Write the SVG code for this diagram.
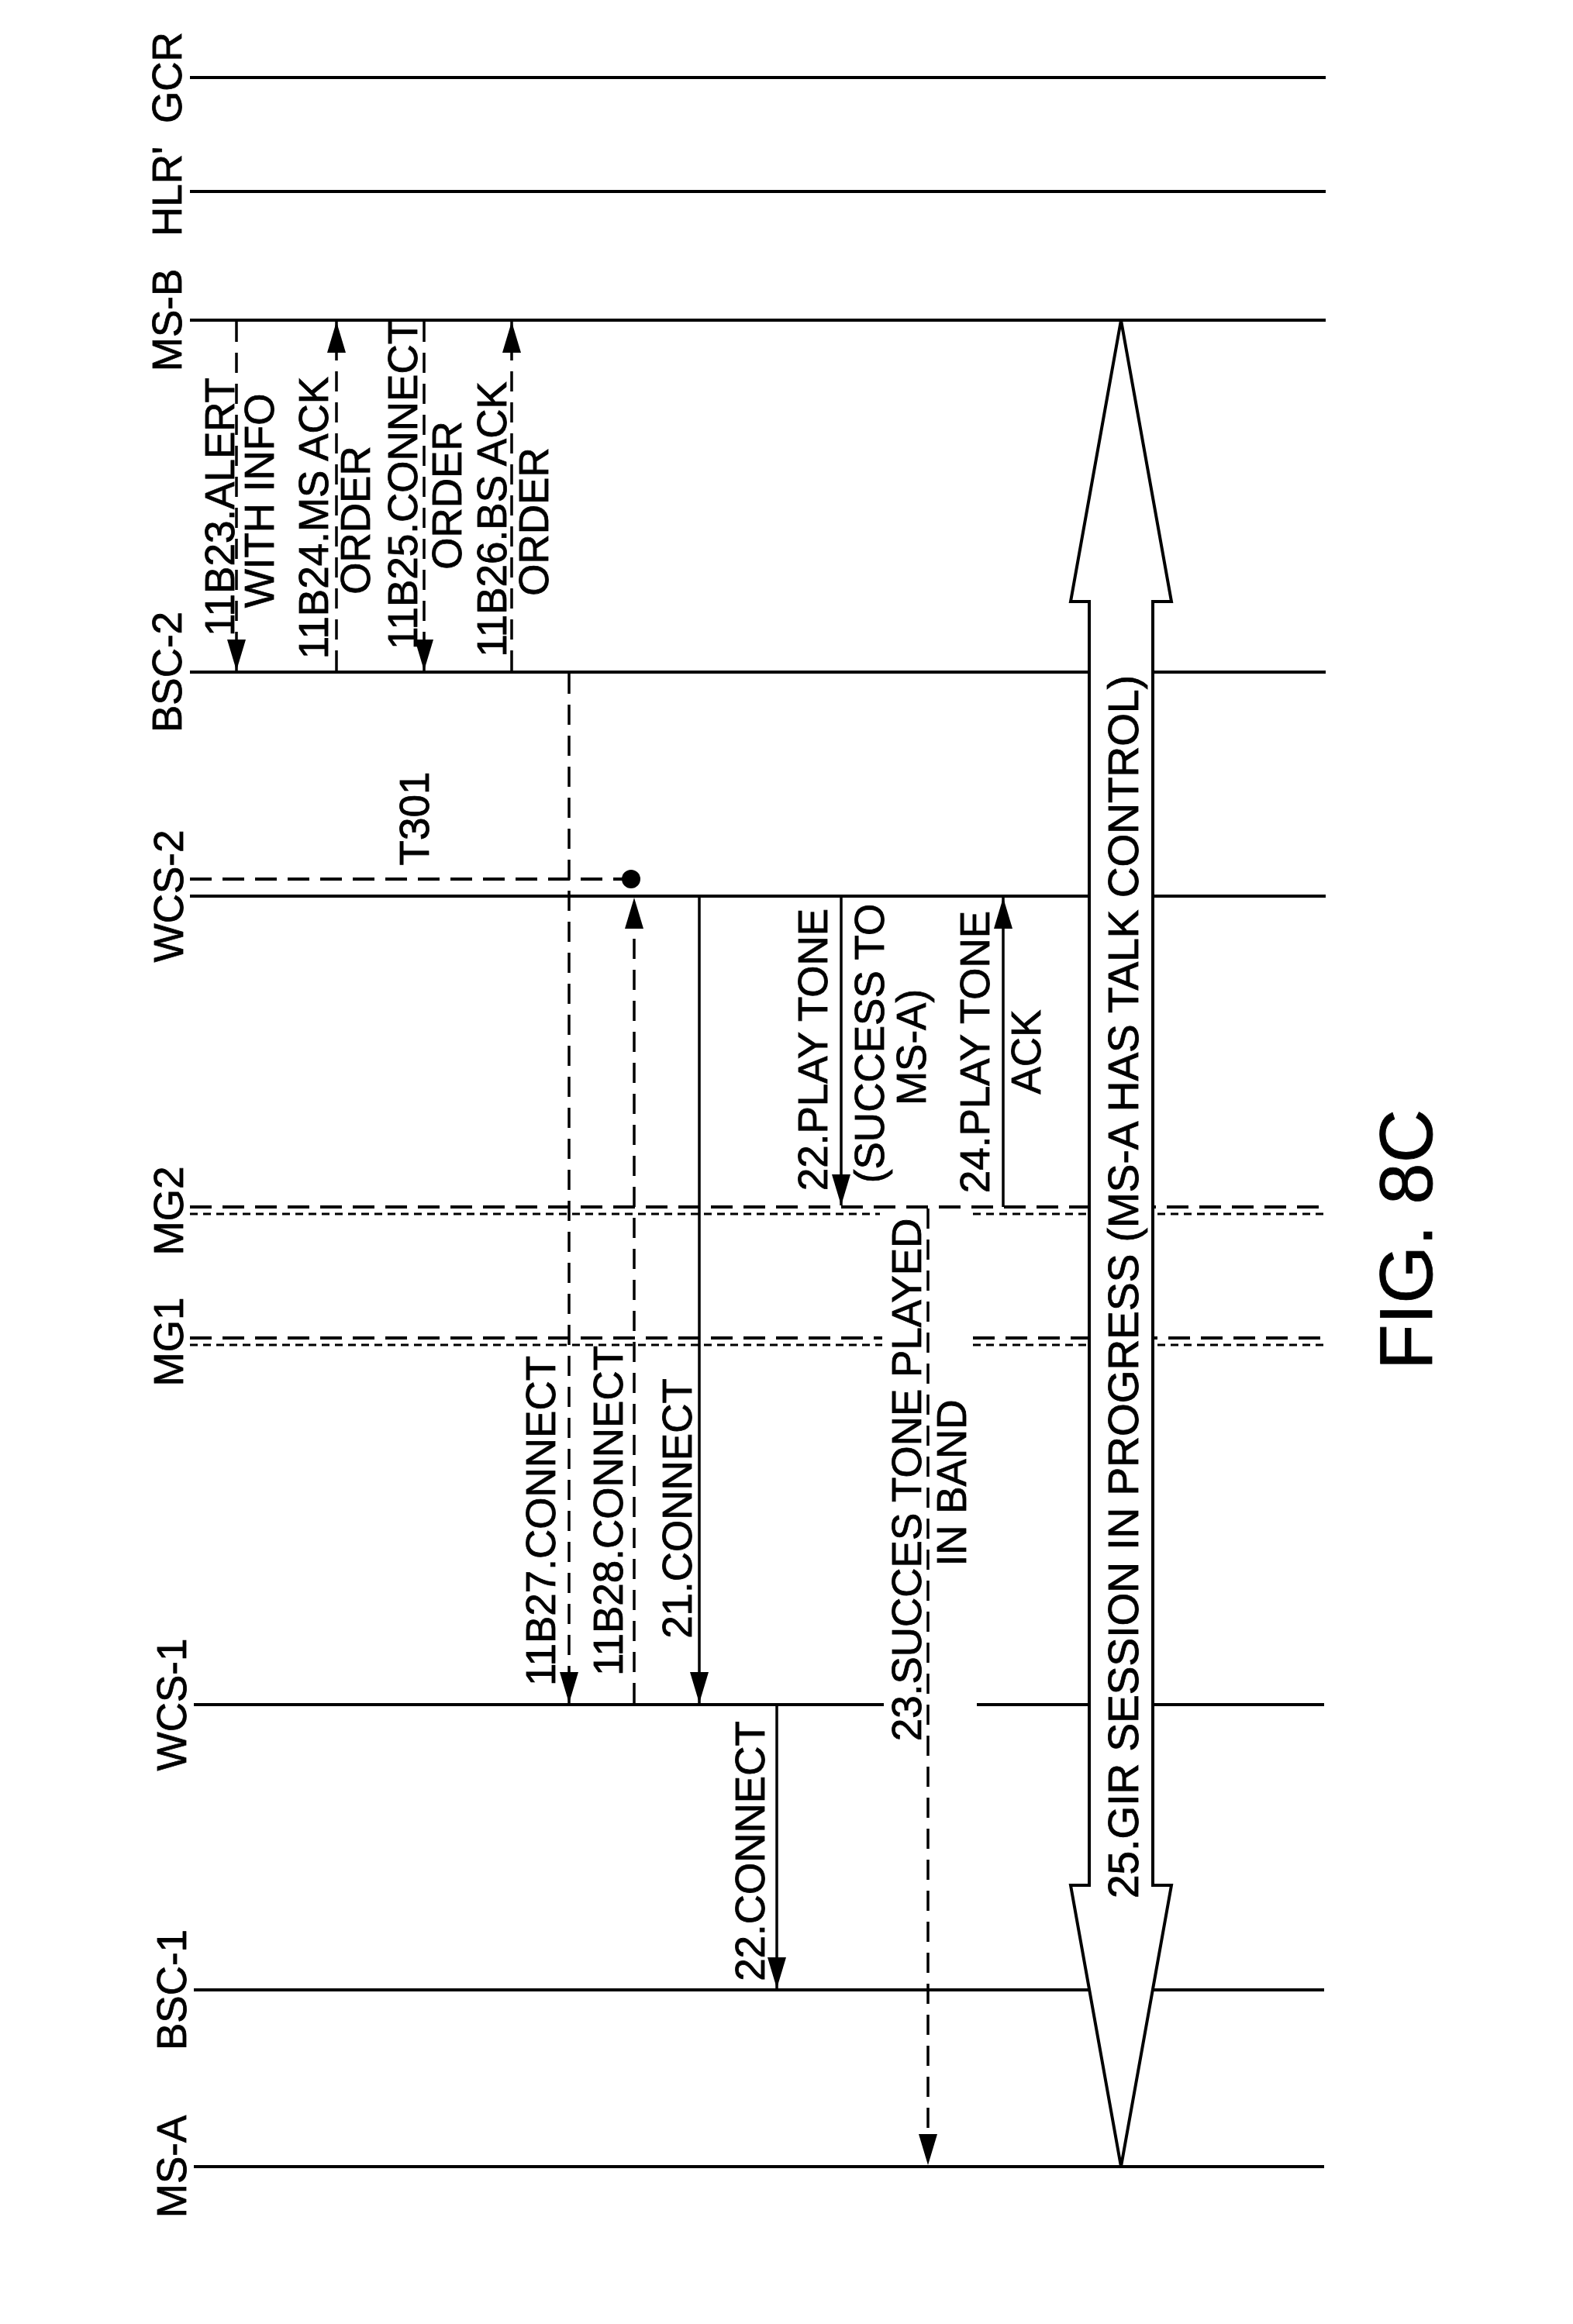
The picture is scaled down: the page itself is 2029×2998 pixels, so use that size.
<svg xmlns="http://www.w3.org/2000/svg" width="2029" height="2998" viewBox="0 0 2029 2998">
<defs>
<marker id="ah" viewBox="0 0 40 24" refX="40" refY="12" markerWidth="40" markerHeight="24" markerUnits="userSpaceOnUse" orient="auto"><path d="M0,0 L40,12 L0,24 Z" fill="#000"/></marker>
<style>
text{font-family:"Liberation Sans",Arial,sans-serif;font-size:53px;fill:#000;stroke:#000;stroke-width:0.8;text-anchor:middle}
.ll{stroke:#000;stroke-width:4;fill:none}
.dash{stroke:#000;stroke-width:4;fill:none;stroke-dasharray:28 14}
.dot{stroke:#000;stroke-width:3;fill:none;stroke-dasharray:10 7}
.m{stroke:#000;stroke-width:3.5;fill:none;marker-end:url(#ah)}
.md{stroke:#000;stroke-width:3.5;fill:none;stroke-dasharray:26 14;marker-end:url(#ah)}
</style>
</defs>
<rect width="2029" height="2998" fill="#fff"/>
<g id="lifelines">
<g id="GCR"><line class="ll" x1="245" y1="100" x2="1710" y2="100"/><text transform="translate(234,100) rotate(-90)">GCR</text></g>
<g id="HLR"><line class="ll" x1="245" y1="247" x2="1710" y2="247"/><text transform="translate(234,247) rotate(-90)">HLR'</text></g>
<g id="MSB"><line class="ll" x1="245" y1="413" x2="1710" y2="413"/><text transform="translate(234,413) rotate(-90)">MS-B</text></g>
<g id="BSC2"><line class="ll" x1="245" y1="867" x2="1710" y2="867"/><text transform="translate(234,867) rotate(-90)">BSC-2</text></g>
<g id="WCS2"><line class="ll" x1="245" y1="1156" x2="1710" y2="1156"/><text transform="translate(236,1156) rotate(-90)">WCS-2</text></g>
<g id="MG2"><line class="dash" x1="245" y1="1557" x2="1710" y2="1557"/><line class="dot" x1="245" y1="1566" x2="1135" y2="1566"/><line class="dot" x1="1255" y1="1566" x2="1710" y2="1566"/><text transform="translate(236,1562) rotate(-90)">MG2</text></g>
<g id="MG1"><line class="dash" x1="245" y1="1726" x2="1138" y2="1726"/><line class="dash" x1="1255" y1="1726" x2="1710" y2="1726"/><line class="dot" x1="245" y1="1735" x2="1138" y2="1735"/><line class="dot" x1="1255" y1="1735" x2="1710" y2="1735"/><text transform="translate(236,1731) rotate(-90)">MG1</text></g>
<g id="WCS1"><line class="ll" x1="250" y1="2199" x2="1140" y2="2199"/><line class="ll" x1="1260" y1="2199" x2="1708" y2="2199"/><text transform="translate(240,2199) rotate(-90)">WCS-1</text></g>
<g id="BSC1"><line class="ll" x1="250" y1="2567" x2="1708" y2="2567"/><text transform="translate(240,2567) rotate(-90)">BSC-1</text></g>
<g id="MSA"><line class="ll" x1="250" y1="2795" x2="1708" y2="2795"/><text transform="translate(240,2795) rotate(-90)">MS-A</text></g>
</g>
<g id="connectors">
<line class="md" x1="305" y1="415" x2="305" y2="865"/>
<line class="md" x1="434" y1="865" x2="434" y2="415"/>
<line class="md" x1="547" y1="415" x2="547" y2="865"/>
<line class="md" x1="660" y1="865" x2="660" y2="415"/>
<line class="dash" x1="245" y1="1134" x2="814" y2="1134"/>
<circle cx="814" cy="1134" r="12" fill="#000"/>
<line class="md" x1="734" y1="869" x2="734" y2="2197"/>
<line class="md" x1="818" y1="2197" x2="818" y2="1158"/>
<line class="m" x1="902" y1="1158" x2="902" y2="2197"/>
<line class="m" x1="1085" y1="1158" x2="1085" y2="1555"/>
<line class="m" x1="1294" y1="1557" x2="1294" y2="1158"/>
<line class="md" x1="1197" y1="1559" x2="1197" y2="2793"/>
<line class="m" x1="1002" y1="2201" x2="1002" y2="2565"/>
</g>
<g id="session">
<polygon points="1446,413 1511,776 1487,776 1487,2432 1511,2432 1446,2795 1381,2432 1405,2432 1405,776 1381,776" fill="#fff" stroke="#000" stroke-width="4" stroke-linejoin="miter"/>
<text transform="translate(1468,1660) rotate(-90)" style="font-size:55px">25.GIR SESSION IN PROGRESS (MS-A HAS TALK CONTROL)</text>
</g>
<g id="labels">
<text transform="translate(302,654) rotate(-90)">11B23.ALERT</text>
<text transform="translate(353,646) rotate(-90)">WITH INFO</text>
<text transform="translate(423,668) rotate(-90)">11B24.MS ACK</text>
<text transform="translate(477,671) rotate(-90)">ORDER</text>
<text transform="translate(538,625) rotate(-90)">11B25.CONNECT</text>
<text transform="translate(595,639) rotate(-90)">ORDER</text>
<text transform="translate(653,670) rotate(-90)">11B26.BS ACK</text>
<text transform="translate(707,673) rotate(-90)">ORDER</text>
<text transform="translate(553,1056) rotate(-90)">T301</text>
<text transform="translate(716,1962) rotate(-90)">11B27.CONNECT</text>
<text transform="translate(803,1949) rotate(-90)">11B28.CONNECT</text>
<text transform="translate(892,1946) rotate(-90)">21.CONNECT</text>
<text transform="translate(1067,1354) rotate(-90)">22.PLAY TONE</text>
<text transform="translate(1140,1346) rotate(-90)">(SUCCESS TO</text>
<text transform="translate(1194,1351) rotate(-90)">MS-A)</text>
<text transform="translate(1276,1357) rotate(-90)">24.PLAY TONE</text>
<text transform="translate(1342,1357) rotate(-90)">ACK</text>
<text transform="translate(1188,1909) rotate(-90)">23.SUCCES TONE PLAYED</text>
<text transform="translate(1246,1913) rotate(-90)">IN BAND</text>
<text transform="translate(986,2388) rotate(-90)">22.CONNECT</text>
<text transform="translate(1847,1599) rotate(-90)" style="font-size:96px">FIG. 8C</text>
</g>
</svg>
